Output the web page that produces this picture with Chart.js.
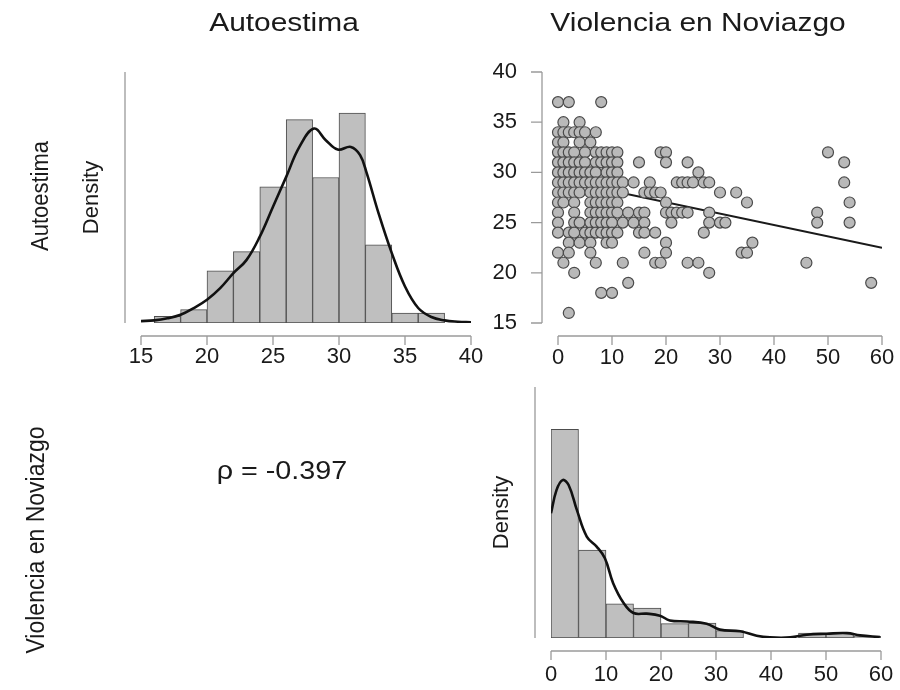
<!DOCTYPE html>
<html>
<head>
<meta charset="utf-8">
<script src="https://cdn.jsdelivr.net/npm/chart.js@4"></script>
<style>
  body { margin: 0; background: #fff; }
  #wrap { position: relative; width: 900px; height: 690px; overflow: hidden; font-family: "Liberation Sans", Arial, sans-serif; color: #1a1a1a; }
  canvas { position: absolute; left: 0; top: 0; }
  .lbl { position: absolute; white-space: nowrap; transform: translate(-50%, -50%) scaleX(1.15); }
  .rot { transform: translate(-50%, -50%) rotate(-90deg) scaleY(1.1); }
</style>
</head>
<body>
<div id="wrap">
  <canvas id="histAuto" width="940" height="690"></canvas>
  <canvas id="scatter" width="940" height="690"></canvas>
  <canvas id="histViol" width="940" height="690"></canvas>
  <div class="lbl" style="left:284px; top:22px; font-size:26px;">Autoestima</div>
  <div class="lbl" style="left:698px; top:22px; font-size:26px;">Violencia en Noviazgo</div>
  <div class="lbl rot" style="left:40px; top:196px; font-size:22px;">Autoestima</div>
  <div class="lbl rot" style="left:36px; top:540px; font-size:23px;">Violencia en Noviazgo</div>
  <div class="lbl" style="left:282px; top:470px; font-size:25px;">ρ = -0.397</div>
</div>
<script>
// Autoestima histogram (bin mid-points, width 2) and density curve
const autoBinMid = [17, 19, 21, 23, 25, 27, 29, 31, 33, 35, 37];
const autoDensity = [0.0035, 0.0071, 0.0279, 0.0381, 0.0727, 0.1086, 0.0777, 0.1121, 0.0417, 0.0053, 0.0053];
const autoCurveX = [15, 16, 17, 18, 19, 20, 21, 22, 23, 24, 25, 26, 27, 28.1, 29, 29.9, 30.9, 31.6, 32.1, 33, 34, 35, 36, 37, 38, 39, 40];
const autoCurveY = [0.001, 0.0014, 0.0025, 0.0044, 0.008, 0.0124, 0.0186, 0.0266, 0.0337, 0.0461, 0.0621, 0.078, 0.094, 0.1038, 0.0976, 0.0926, 0.094, 0.0896, 0.08, 0.0585, 0.0373, 0.0195, 0.008, 0.0032, 0.0014, 0.0007, 0.0004];

// Violencia en Noviazgo histogram (bin mid-points, width 5) and density curve
const violBinMid = [2.5, 7.5, 12.5, 17.5, 22.5, 27.5, 32.5, 37.5, 42.5, 47.5, 52.5, 57.5];
const violDensity = [0.102, 0.043, 0.0167, 0.0146, 0.007, 0.0073, 0.0036, 0, 0, 0.0024, 0.0024, 0.0008];
const violCurveX = [0, 1, 2.1, 3.2, 4.7, 6.5, 8.3, 9.8, 11.3, 13.2, 15, 17.4, 19.8, 21.6, 24.7, 28.3, 30.7, 34.4, 37.4, 39.8, 43.5, 46.5, 50.1, 53.8, 56.2, 59.8];
const violCurveY = [0.061, 0.0723, 0.0772, 0.0748, 0.0626, 0.0496, 0.0447, 0.039, 0.0268, 0.0171, 0.0122, 0.0119, 0.0109, 0.0086, 0.0081, 0.007, 0.0041, 0.0033, 0.0011, 0.0003, 0.0003, 0.0016, 0.0021, 0.0024, 0.0013, 0.0005];

// scatter: Violencia (x) vs Autoestima (y)
const violScore = [
  0, 2, 8,
  1, 4,
  0, 1, 2, 3, 4, 5, 7,
  0, 1, 4, 6,
  0, 1, 2, 3, 5, 7, 8, 9, 10, 11, 19, 20, 50,
  0, 1, 2, 3, 4, 5, 7, 8, 9, 10, 11, 15, 20, 24, 53,
  0, 1, 2, 3, 4, 5, 6, 7, 9, 10, 11, 26,
  0, 1, 2, 3, 4, 5, 6, 7, 8, 9, 10, 11, 12, 14, 17, 22, 23, 24, 25, 27, 28, 53,
  0, 1, 2, 3, 4, 6, 7, 8, 9, 10, 11, 12, 16, 17, 18, 19, 30, 33,
  0, 1, 3, 6, 7, 8, 9, 10, 11, 20, 35, 54,
  0, 3, 6, 7, 8, 9, 10, 11, 13, 15, 16, 20, 21, 22, 23, 24, 28, 48,
  0, 3, 4, 6, 7, 8, 9, 10, 12, 14, 16, 21, 28, 30, 31, 48, 54,
  0, 2, 3, 5, 6, 7, 8, 9, 10, 11, 15, 16, 18, 27,
  2, 4, 6, 9, 10, 20, 36,
  0, 2, 6, 16, 20, 34, 35,
  1, 7, 12, 18, 19, 24, 26, 46,
  3, 28,
  13, 58,
  8, 10,
  2
];
const autoScore = [
  37, 37, 37,
  35, 35,
  34, 34, 34, 34, 34, 34, 34,
  33, 33, 33, 33,
  32, 32, 32, 32, 32, 32, 32, 32, 32, 32, 32, 32, 32,
  31, 31, 31, 31, 31, 31, 31, 31, 31, 31, 31, 31, 31, 31, 31,
  30, 30, 30, 30, 30, 30, 30, 30, 30, 30, 30, 30,
  29, 29, 29, 29, 29, 29, 29, 29, 29, 29, 29, 29, 29, 29, 29, 29, 29, 29, 29, 29, 29, 29,
  28, 28, 28, 28, 28, 28, 28, 28, 28, 28, 28, 28, 28, 28, 28, 28, 28, 28,
  27, 27, 27, 27, 27, 27, 27, 27, 27, 27, 27, 27,
  26, 26, 26, 26, 26, 26, 26, 26, 26, 26, 26, 26, 26, 26, 26, 26, 26, 26,
  25, 25, 25, 25, 25, 25, 25, 25, 25, 25, 25, 25, 25, 25, 25, 25, 25,
  24, 24, 24, 24, 24, 24, 24, 24, 24, 24, 24, 24, 24, 24,
  23, 23, 23, 23, 23, 23, 23,
  22, 22, 22, 22, 22, 22, 22,
  21, 21, 21, 21, 21, 21, 21, 21,
  20, 20,
  19, 19,
  18, 18,
  16
];
// fitted regression line end points
const regX = [0, 60];
const regY = [29.3, 22.5];

const autoTicks = { min: 15, max: 40, step: 5 };
const violTicks = { min: 0, max: 60, step: 10 };

const tickFont = { family: 'Liberation Sans', size: 22 };
const textColor = '#1a1a1a';
const axisGrey = '#9a9a9a';
const CW = 940, CH = 690; // canvas size (wider than page so right tick label padding never squeezes the plot)

// R style detached axes, drawn from the chart's own scales
const rAxes = {
  id: 'rAxes',
  afterDraw(chart, args, opts) {
    const { ctx, chartArea, scales } = chart;
    const xs = scales.x, ys = scales.y;
    ctx.save();
    ctx.strokeStyle = axisGrey;
    ctx.lineWidth = 1.3;
    ctx.beginPath();
    const yl = chartArea.bottom + opts.xGap;
    ctx.moveTo(xs.getPixelForValue(xs.min), yl);
    ctx.lineTo(xs.getPixelForValue(xs.max), yl);
    xs.ticks.forEach(t => {
      const p = xs.getPixelForValue(t.value);
      ctx.moveTo(p, yl);
      ctx.lineTo(p, yl + opts.tickLen);
    });
    const xl = chartArea.left - opts.yGap;
    ctx.moveTo(xl, ys.getPixelForValue(ys.max));
    ctx.lineTo(xl, ys.getPixelForValue(ys.min));
    if (opts.yTicks) {
      ys.ticks.forEach(t => {
        const p = ys.getPixelForValue(t.value);
        ctx.moveTo(xl, p);
        ctx.lineTo(xl - opts.tickLen - 2, p);
      });
    }
    ctx.stroke();
    ctx.restore();
  }
};

function xy(xsArr, ysArr) {
  return xsArr.map((v, i) => ({ x: v, y: ysArr[i] }));
}

// chart area placed by padding + fixed scale sizes
function histConfig(binMid, dens, cx, cy, rng, yMax, area, labelPad) {
  const xH = 60, yW = 62;
  return {
    type: 'bar',
    data: {
      datasets: [
        {
          type: 'line',
          data: xy(cx, cy),
          borderColor: '#111',
          borderWidth: 2.6,
          pointRadius: 0,
          tension: 0.4,
          fill: false
        },
        {
          data: xy(binMid, dens),
          backgroundColor: '#bfbfbf',
          borderColor: '#4d4d4d',
          borderWidth: 1,
          borderSkipped: false,
          barPercentage: 1,
          categoryPercentage: 1
        }
      ]
    },
    options: {
      responsive: false,
      animation: false,
      devicePixelRatio: 1,
      layout: { padding: { left: area.l - yW, right: CW - area.r, top: area.t, bottom: CH - area.b - xH } },
      plugins: {
        legend: { display: false },
        tooltip: { enabled: false },
        rAxes: { xGap: 13, yGap: 16, tickLen: 9, yTicks: false }
      },
      scales: {
        x: {
          type: 'linear', min: rng.min, max: rng.max, offset: false,
          ticks: { stepSize: rng.step, font: tickFont, color: textColor, padding: labelPad, maxRotation: 0 },
          grid: { display: false, drawTicks: false },
          border: { display: false },
          afterFit: s => { s.height = xH; }
        },
        y: {
          min: 0, max: yMax,
          ticks: { display: false },
          grid: { display: false, drawTicks: false },
          border: { display: false },
          title: { display: true, text: 'Density', font: { family: 'Liberation Sans', size: 22 }, color: textColor, padding: 0 },
          afterFit: s => { s.width = yW; }
        }
      }
    },
    plugins: [rAxes]
  };
}

new Chart(document.getElementById('histAuto'),
  histConfig(autoBinMid, autoDensity, autoCurveX, autoCurveY, autoTicks, 0.134,
    { l: 141, r: 471, t: 72, b: 323 }, 21));

new Chart(document.getElementById('histViol'),
  histConfig(violBinMid, violDensity, violCurveX, violCurveY, violTicks, 0.1227,
    { l: 551, r: 881, t: 387, b: 638 }, 24));

// scatter panel
const sArea = { l: 558, r: 882, t: 72, b: 323 };
new Chart(document.getElementById('scatter'), {
  type: 'scatter',
  data: {
    datasets: [
      {
        data: xy(violScore, autoScore),
        backgroundColor: '#b9b9b9',
        borderColor: '#4a4a4a',
        borderWidth: 1.2,
        pointRadius: 5.5,
        clip: false
      },
      {
        type: 'line',
        data: xy(regX, regY),
        borderColor: '#1a1a1a',
        borderWidth: 2,
        pointRadius: 0,
        fill: false
      }
    ]
  },
  options: {
    responsive: false,
    animation: false,
    devicePixelRatio: 1,
    layout: { padding: { left: sArea.l - 90, right: CW - sArea.r, top: sArea.t, bottom: CH - sArea.b - 60 } },
    plugins: {
      legend: { display: false },
      tooltip: { enabled: false },
      rAxes: { xGap: 13, yGap: 16, tickLen: 9, yTicks: true }
    },
    scales: {
      x: {
        type: 'linear', min: violTicks.min, max: violTicks.max,
        ticks: { stepSize: violTicks.step, font: tickFont, color: textColor, padding: 22, maxRotation: 0 },
        grid: { display: false, drawTicks: false },
        border: { display: false },
        afterFit: s => { s.height = 60; }
      },
      y: {
        min: 15, max: 40,
        ticks: { stepSize: 5, font: tickFont, color: textColor, padding: 41 },
        grid: { display: false, drawTicks: false },
        border: { display: false },
        afterFit: s => { s.width = 90; }
      }
    }
  },
  plugins: [rAxes]
});
</script>
</body>
</html>
